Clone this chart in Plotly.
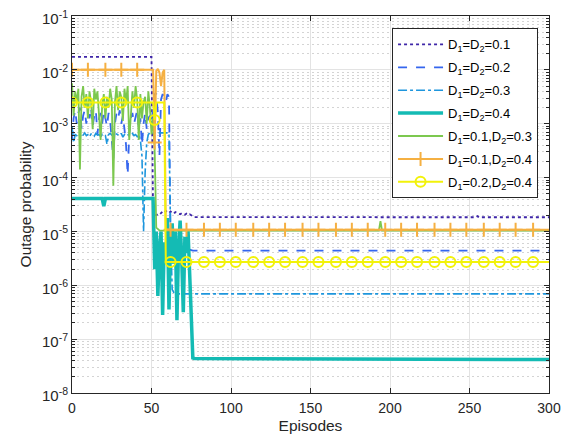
import plotly.graph_objects as go

# ---------------- data (log10 of outage probability) ----------------
episodes_axis = [0, 50, 100, 150, 200, 250, 300]
y_tick_exp = [-8, -7, -6, -5, -4, -3, -2, -1]

legend_names = [
    "D<sub>1</sub>=D<sub>2</sub>=0.1",
    "D<sub>1</sub>=D<sub>2</sub>=0.2",
    "D<sub>1</sub>=D<sub>2</sub>=0.3",
    "D<sub>1</sub>=D<sub>2</sub>=0.4",
    "D<sub>1</sub>=0.1,D<sub>2</sub>=0.3",
    "D<sub>1</sub>=0.1,D<sub>2</sub>=0.4",
    "D<sub>1</sub>=0.2,D<sub>2</sub>=0.4",
]

# D1=D2=0.1
s1_x = [0, 50, 51, 52, 53, 54, 55, 56, 57, 58, 59, 60, 61, 62, 63, 64, 65, 66, 67, 68,
        69, 70, 71, 72, 73, 74, 75, 76, 77, 254, 255, 256, 300]
s1_log = [-1.758, -1.758, -4.70, -4.69, -4.70, -4.68, -4.69, -4.66, -4.63, -4.65, -4.62,
          -4.64, -4.66, -4.63, -4.65, -4.67, -4.64, -4.66, -4.67, -4.68, -4.66, -4.68,
          -4.69, -4.67, -4.69, -4.68, -4.70, -4.72, -4.735, -4.737, -4.715, -4.737, -4.737]

# D1=D2=0.2
s2_x = list(range(0, 63)) + [63, 66, 70, 73, 74, 76, 300]
s2_log = [-3.3, -2.9, -2.75, -3.0, -2.8, -2.7, -3.1, -2.85, -2.75, -3.0,
          -2.8, -2.9, -2.7, -3.05, -2.85, -2.75, -3.2, -2.9, -2.8, -3.0,
          -2.75, -2.9, -3.05, -2.8, -2.95, -3.3, -3.65, -3.0, -2.8, -2.9,
          -2.75, -3.0, -2.85, -3.1, -3.4, -3.95, -3.2, -2.9, -2.8, -3.0,
          -2.85, -2.75, -3.1, -2.9, -3.4, -3.0, -2.8, -3.1, -2.9, -2.85,
          -3.0, -2.7, -2.45, -2.45, -2.8, -3.6, -2.55, -2.45, -2.5, -2.6,
          -2.45, -2.5, -5.3,
          -5.32, -5.3, -5.33, -5.3, -5.34, -5.355, -5.357]

# D1=D2=0.3
s3_x = list(range(0, 50)) + [61, 62, 63, 64, 66, 300]
s3_log = [-3.05, -3.35, -3.2, -3.22, -3.18, -3.2, -3.25, -3.2, -3.17, -3.22,
          -3.2, -3.24, -3.19, -3.2, -3.23, -3.18, -3.21, -3.2, -3.26, -3.19,
          -3.2, -3.22, -3.38, -3.2, -3.18, -3.21, -3.2, -3.24, -3.19, -3.2,
          -3.22, -3.18, -3.25, -3.2, -3.21, -3.19, -3.23, -3.2, -3.18, -3.22,
          -3.2, -3.24, -3.2, -3.3, -3.6, -5.0, -3.9, -3.35, -3.2, -3.17,
          -3.17, -5.0, -6.08, -6.13, -6.16, -6.16]

# D1=D2=0.4
s4_x = [0, 19, 20, 21, 51] + list(range(52, 77)) + [77, 300]
s4_log = [-4.39, -4.39, -4.53, -4.39, -4.39,
          -5.7, -5.0, -6.2, -5.3, -5.0, -6.55, -5.2, -5.6, -4.75, -6.45,
          -5.1, -4.85, -5.6, -5.0, -6.65, -5.3, -4.8, -5.5, -6.5, -5.1,
          -5.4, -5.0, -5.9, -6.45, -7.35,
          -7.36, -7.38]

# D1=0.1, D2=0.3
s5_x = list(range(0, 56)) + [60, 193, 194, 195, 300]
s5_log = [-2.25, -2.85, -2.4, -2.6, -2.35, -3.85, -2.5, -2.3, -2.7, -2.45,
          -2.9, -2.4, -2.6, -3.1, -2.35, -2.55, -2.4, -2.8, -3.3, -2.65,
          -2.45, -2.9, -2.5, -2.7, -2.35, -2.55, -4.15, -2.6, -2.3, -2.75,
          -2.4, -2.5, -2.95, -2.35, -2.6, -2.3, -3.3, -2.85, -2.4, -2.7,
          -2.3, -2.55, -3.3, -2.45, -2.9, -2.6, -2.5, -3.0, -2.4, -2.7,
          -3.2, -2.9, -3.5, -4.93, -4.96, -4.98,
          -4.985, -4.985, -4.81, -4.985, -4.985]

# D1=0.1, D2=0.4
s6_x = [0, 10, 21, 31, 41, 51, 52, 53, 54, 55, 56, 57, 58, 59, 62, 72, 83, 93, 103, 114,
        124, 134, 145, 155, 166, 176, 186, 197, 207, 217, 228, 238, 248, 259, 269, 279,
        290, 300]
s6_log = [-2.0, -2.0, -2.0, -2.0, -2.0, -2.0, -3.35, -2.02, -1.98, -2.05, -2.3, -2.05,
          -2.0, -4.96] + [-4.97] * 24

# D1=0.2, D2=0.4
s7_x = [0, 10, 21, 31, 41, 51, 52, 53, 58, 59, 62, 72, 83, 93, 103, 114, 124, 134, 145,
        155, 166, 176, 186, 197, 207, 217, 228, 238, 248, 259, 269, 279, 290, 300]
s7_log = [-2.607, -2.607, -2.607, -2.607, -2.607, -2.607, -2.93, -2.607, -2.607,
          -5.568] + [-5.568] * 24

marker_episodes = [0, 10, 21, 31, 41, 52, 62, 72, 83, 93, 103, 114, 124, 134, 145, 155,
                   166, 176, 186, 197, 207, 217, 228, 238, 248, 259, 269, 279, 290]

# ---------------- styling ----------------
colors = ["#3E26A8", "#3566EE", "#1E96DD", "#14BBB4", "#7CC84F", "#F5B042", "#F2F20A"]
dashes = ["dot", "dash", "dashdot", "solid", "solid", "solid", "solid"]
widths = [1.8, 1.8, 1.6, 3.5, 1.8, 2.0, 2.0]
symbols = [None, None, None, None, None, "cross-thin-open", "circle-open"]

series = [(s1_x, s1_log), (s2_x, s2_log), (s3_x, s3_log), (s4_x, s4_log),
          (s5_x, s5_log), (s6_x, s6_log), (s7_x, s7_log)]

fig = go.Figure()
for i, (xs, ls) in enumerate(series):
    ys = [10 ** v for v in ls]
    fig.add_trace(go.Scatter(x=xs, y=ys, mode="lines", showlegend=False,
                             line=dict(color=colors[i], width=widths[i], dash=dashes[i]),
                             hoverinfo="skip"))
    if symbols[i]:
        lut = dict(zip(xs, ys))
        fig.add_trace(go.Scatter(x=marker_episodes, y=[lut[e] for e in marker_episodes],
                                 mode="markers", showlegend=False, hoverinfo="skip",
                                 marker=dict(symbol=symbols[i], size=10, color=colors[i],
                                             line=dict(color=colors[i], width=2))))

# legend proxies
for i in range(7):
    mode = "lines+markers" if symbols[i] else "lines"
    kw = {}
    if symbols[i]:
        kw["marker"] = dict(symbol=symbols[i], size=10, color=colors[i],
                            line=dict(color=colors[i], width=2))
    fig.add_trace(go.Scatter(x=[None], y=[None], mode=mode, name=legend_names[i],
                             legendgroup=f"g{i}",
                             line=dict(color=colors[i], width=widths[i], dash=dashes[i]),
                             **kw))

axis_col = "#262626"
fig.update_layout(
    width=574, height=440,
    margin=dict(l=64, r=33, t=8, b=55, autoexpand=False),
    plot_bgcolor="white", paper_bgcolor="white",
    font=dict(family="Liberation Sans, Arial, sans-serif", size=14, color=axis_col),
    legend=dict(x=0.824, y=0.967, xanchor="center", yanchor="top",
                bgcolor="white", bordercolor=axis_col, borderwidth=1,
                font=dict(size=13, color="#000000"), tracegroupgap=3, itemwidth=45),
)
fig.update_xaxes(
    range=[0, 300], tickvals=episodes_axis, ticks="inside", ticklen=5,
    tickcolor=axis_col, showline=True, linecolor=axis_col, linewidth=1, mirror="ticks",
    showgrid=True, gridcolor="#e3e3e3", gridwidth=1, zeroline=False, automargin=False,
    tickfont=dict(size=14), ticklabelstandoff=2, ticklabeloverflow="allow",
    title=dict(text="Episodes", font=dict(size=15.5), standoff=5),
)
fig.update_yaxes(
    type="log", range=[-8, -1],
    tickvals=[10 ** e for e in y_tick_exp],
    ticktext=[f"10<sup>{e}</sup>" for e in y_tick_exp],
    ticks="inside", ticklen=5, tickcolor=axis_col, automargin=False,
    tickfont=dict(size=15), ticklabeloverflow="allow", ticklabelshift=3,
    showline=True, linecolor=axis_col, linewidth=1, mirror="ticks",
    showgrid=True, gridcolor="#e3e3e3", gridwidth=1, zeroline=False,
    minor=dict(ticks="inside", ticklen=3, tickcolor=axis_col, dtick="D1",
               showgrid=True, gridcolor="#d4d4d4", griddash="2px,3px"),
    title=dict(text="Outage probability", font=dict(size=15.5), standoff=6),
)

fig.write_html("out.html")
